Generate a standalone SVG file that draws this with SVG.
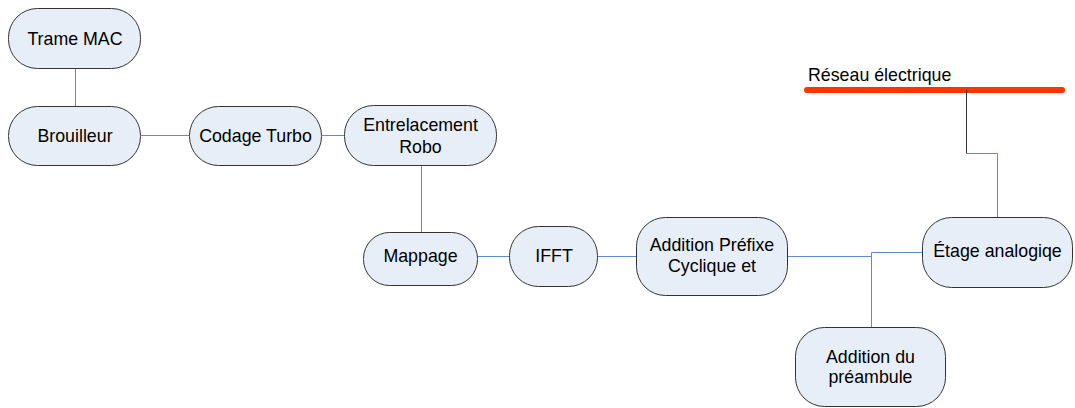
<svg xmlns="http://www.w3.org/2000/svg" width="1075" height="408" viewBox="0 0 1075 408">
  <style>
    .node rect { fill: #E8EEF7; stroke: #333333; stroke-width: 1; }
    .node text, .label { font-family: "Liberation Sans", Arial, sans-serif; font-size: 17.8px; fill: #000000; text-anchor: middle; }
    .label { text-anchor: start; }
    .link { fill: none; stroke: #5B8BD0; stroke-width: 1; }
    .feed { fill: none; stroke: #333333; stroke-width: 1; }
    .mains { stroke: #FF3300; stroke-width: 6; stroke-linecap: round; }
  </style>

  <rect width="1075" height="408" fill="#FFFFFF"/>

  <!-- power line -->
  <g id="reseau">
    <line class="mains" x1="807" y1="90" x2="1062" y2="90"/>
    <text class="label" x="808" y="81">Réseau électrique</text>
  </g>

  <!-- connectors -->
  <g id="connectors">
    <path class="link" d="M75.5 69 V106"/>
    <path class="link" d="M141 135.5 H189"/>
    <path class="link" d="M322 135.5 H344"/>
    <path class="link" d="M421.5 166 V232"/>
    <path class="link" d="M478 256.5 H509"/>
    <path class="link" d="M598 256.5 H636"/>
    <path class="link" d="M788 256.5 H871.5"/>
    <path class="link" d="M871.5 327 V252.5 H922"/>
    <path class="link" d="M997.5 217 V153.5 H966.5"/>
    <path class="feed" d="M966.5 153.5 V90"/>
  </g>

  <g id="trame-mac" class="node">
    <rect x="8.5" y="8.5" width="132" height="60" rx="29" ry="29"/>
    <text x="75" y="44.5">Trame MAC</text>
  </g>

  <g id="brouilleur" class="node">
    <rect x="8.5" y="106.5" width="132" height="59" rx="29" ry="29"/>
    <text x="75" y="142">Brouilleur</text>
  </g>

  <g id="codage-turbo" class="node">
    <rect x="189.5" y="106.5" width="132" height="59" rx="29" ry="29"/>
    <text x="255.5" y="142">Codage Turbo</text>
  </g>

  <g id="entrelacement" class="node">
    <rect x="344.5" y="105.5" width="152" height="60" rx="29" ry="29"/>
    <text x="420.5" y="131">Entrelacement</text>
    <text x="420.5" y="152.5">Robo</text>
  </g>

  <g id="mappage" class="node">
    <rect x="363.5" y="232.5" width="114" height="53" rx="26" ry="26"/>
    <text x="420.5" y="261.5">Mappage</text>
  </g>

  <g id="ifft" class="node">
    <rect x="509.5" y="226.5" width="88" height="60" rx="29" ry="29"/>
    <text x="554" y="261.5">IFFT</text>
  </g>

  <g id="prefixe-cyclique" class="node">
    <rect x="636.5" y="217.5" width="151" height="78" rx="29" ry="29"/>
    <text x="712" y="251">Addition Préfixe</text>
    <text x="712" y="272">Cyclique et</text>
  </g>

  <g id="etage-analogique" class="node">
    <rect x="922.5" y="217.5" width="150" height="70" rx="29" ry="29"/>
    <text x="997.5" y="257">Étage analogiqe</text>
  </g>

  <g id="preambule" class="node">
    <rect x="795.5" y="327.5" width="150" height="79" rx="29" ry="29"/>
    <text x="870.5" y="363">Addition du</text>
    <text x="870.5" y="382.5">préambule</text>
  </g>
</svg>
